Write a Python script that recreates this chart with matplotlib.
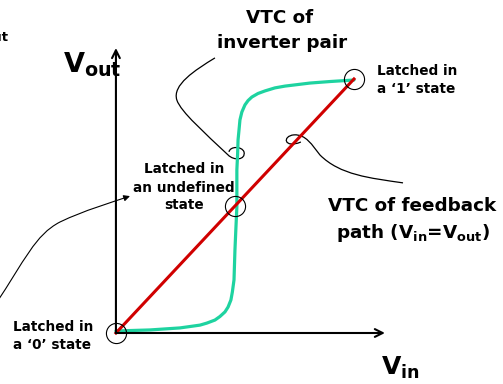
import numpy as np
import matplotlib
matplotlib.use("Agg")
import matplotlib.pyplot as plt
from matplotlib.path import Path
from matplotlib.patches import PathPatch, FancyArrowPatch

# normalised voltages: (0,0) = latched '0', (1,1) = latched '1'
vin_feedback = [0.0, 1.0]
vout_feedback = [0.0, 1.0]

# VTC of the inverter pair
vin_pair = [0.0, 0.143, 0.269, 0.353, 0.382, 0.416, 0.437, 0.458, 0.471, 0.483,
            0.489, 0.496, 0.498, 0.500, 0.504, 0.508, 0.508, 0.511, 0.513, 0.517,
            0.521, 0.529, 0.542, 0.555, 0.571, 0.597, 0.626, 0.668, 0.710, 0.815,
            0.899, 1.0]
vout_pair = [0.008, 0.012, 0.020, 0.031, 0.039, 0.051, 0.065, 0.083, 0.102, 0.130,
             0.161, 0.209, 0.268, 0.327, 0.413, 0.496, 0.642, 0.701, 0.760, 0.799,
             0.839, 0.870, 0.898, 0.915, 0.929, 0.943, 0.953, 0.965, 0.972, 0.984,
             0.990, 0.996]

# operating points
latch_x = [0.0, 0.5, 1.0]
latch_y = [0.0, 0.5, 1.0]

# hand drawn pointer curves (bezier control points)
pair_pointer = [(0.416, 1.083), (0.332, 1.035), (0.235, 0.976), (0.256, 0.917),
                (0.273, 0.870), (0.374, 0.787), (0.471, 0.701),
                (0.496, 0.677), (0.546, 0.681), (0.538, 0.713),
                (0.529, 0.736), (0.479, 0.736), (0.475, 0.713)]
feedback_pointer = [(1.206, 0.591), (1.067, 0.610), (0.941, 0.622), (0.857, 0.701),
                    (0.824, 0.740), (0.798, 0.783), (0.748, 0.780),
                    (0.697, 0.776), (0.706, 0.724), (0.777, 0.752)]
undefined_pointer = [(-0.508, 0.110), (-0.382, 0.287), (-0.340, 0.386), (-0.235, 0.437),
                     (-0.130, 0.484), (-0.025, 0.512), (0.059, 0.539)]

GREEN = '#1ed3a0'
RED = '#d00000'

fig = plt.figure(figsize=(5.03, 3.84), dpi=100)
ax = fig.add_axes([0, 0, 1, 1])
ax.set_xlim(-0.487, 1.626)
ax.set_ylim(-0.2008, 1.311)
ax.axis('off')

# axes with open arrow heads
for end in [(0, 1.122), (1.130, 0)]:
    ax.annotate('', xy=end, xytext=(0, 0),
                arrowprops=dict(arrowstyle='->', lw=1.5, color='k',
                                mutation_scale=14, shrinkA=0, shrinkB=0))

ax.plot(vin_pair, vout_pair, '-', color=GREEN, lw=2.3,
        solid_capstyle='round', solid_joinstyle='round')
ax.plot(vin_feedback, vout_feedback, '-', color=RED, lw=2.2)
ax.plot(latch_x, latch_y, 'o', ms=14.5, mfc='none', mec='k', mew=0.8)


def bezier(points):
    codes = [Path.MOVETO] + [Path.CURVE4] * (len(points) - 1)
    return Path(points, codes)


ax.add_patch(PathPatch(bezier(pair_pointer), fc='none', ec='k', lw=0.9))
ax.add_patch(PathPatch(bezier(feedback_pointer), fc='none', ec='k', lw=0.9))
ax.add_patch(FancyArrowPatch(path=bezier(undefined_pointer), arrowstyle='-|>',
                             mutation_scale=9, lw=0.8, color='k'))

big = dict(fontsize=13.2, fontweight='bold', ha='center', va='center')
small = dict(fontsize=9.8, fontweight='bold', va='center')

ax.text(0.689, 1.240, 'VTC of', **big)
ax.text(0.697, 1.142, 'inverter pair', **big)
ax.text(1.244, 0.500, 'VTC of feedback', **big)
ax.text(1.248, 0.394, r'path (V$_{\mathbf{in}}$=V$_{\mathbf{out}}$)', **big)

ax.text(1.097, 1.031, 'Latched in', ha='left', **small)
ax.text(1.097, 0.961, 'a \u20181\u2019 state', ha='left', **small)
ax.text(0.286, 0.646, 'Latched in', ha='center', **small)
ax.text(0.286, 0.571, 'an undefined', ha='center', **small)
ax.text(0.286, 0.504, 'state', ha='center', **small)
ax.text(-0.433, 0.024, 'Latched in', ha='left', **small)
ax.text(-0.433, -0.047, 'a \u20180\u2019 state', ha='left', **small)

ax.text(-0.223, 1.024, r'$\mathbf{V}_{\mathbf{out}}$', fontsize=19.5,
        ha='left', va='baseline')
ax.text(1.113, -0.165, r'$\mathbf{V}_{\mathbf{in}}$', fontsize=18,
        ha='left', va='baseline')
# clipped remnant at the left edge, as in the original slide
ax.text(-0.452, 1.165, 'out', fontsize=9.5, fontweight='bold',
        ha='right', va='center')

fig.savefig('out.png', dpi=100)
